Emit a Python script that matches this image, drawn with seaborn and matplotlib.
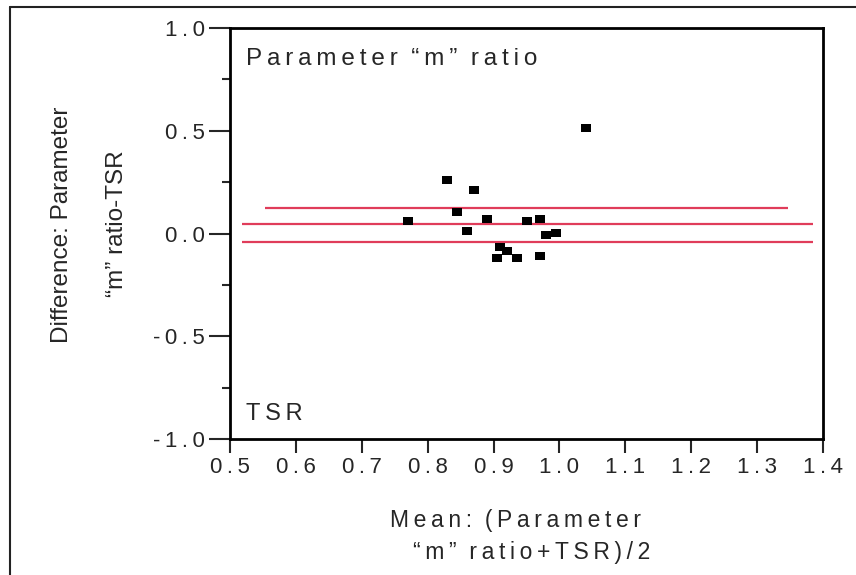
import pandas as pd
import matplotlib
matplotlib.use("Agg")
import matplotlib.pyplot as plt
from matplotlib.lines import Line2D
import seaborn as sns

# Bland-Altman points
mean_vals = [0.770, 0.830, 0.845, 0.860, 0.870, 0.890, 0.905, 0.910,
             0.920, 0.935, 0.950, 0.970, 0.970, 0.980, 0.995, 1.040]
diff_vals = [0.061, 0.259, 0.103, 0.014, 0.213, 0.071, -0.119, -0.064,
             -0.087, -0.119, 0.061, 0.071, -0.108, -0.009, 0.002, 0.513]

# mean difference and limits (upper, mean, lower)
line_y = [0.124, 0.048, -0.043]
line_x0 = [0.553, 0.518, 0.518]
line_x1 = [1.347, 1.385, 1.385]

x_ticks = [0.5, 0.6, 0.7, 0.8, 0.9, 1.0, 1.1, 1.2, 1.3, 1.4]
y_ticks = [-1.0, -0.5, 0.0, 0.5, 1.0]
y_minor = [-0.75, -0.25, 0.25, 0.75]

TS = "\u2009"  # thin space used to mimic the letter spacing


def spaced(s):
    return TS.join(s)


sns.set_style("ticks")
plt.rcParams["font.family"] = ["Liberation Sans", "DejaVu Sans"]

df = pd.DataFrame({"mean": mean_vals, "diff": diff_vals})

fig = plt.figure(figsize=(8.56, 5.75), dpi=100)
ax = fig.add_axes([230 / 856, 1 - 439 / 575, 593 / 856, 411 / 575])

rect = [(-1, -0.68), (1, -0.68), (1, 0.68), (-1, 0.68)]
sns.scatterplot(data=df, x="mean", y="diff", marker=rect, s=56,
                color="black", linewidth=0, ax=ax, zorder=3)

ax.hlines(line_y, line_x0, line_x1, colors="#e03c5a", linewidth=1.6, zorder=2)

ax.set_xlim(0.5, 1.4)
ax.set_ylim(-1.0, 1.0)
ax.set_xticks(x_ticks)
ax.set_xticklabels([spaced(f"{v:.1f}") for v in x_ticks])
ax.set_yticks(y_ticks)
ax.set_yticklabels([spaced(f"{v:.1f}") for v in y_ticks])
ax.set_yticks(y_minor, minor=True)

ax.tick_params(axis="y", which="major", length=15, width=1.5, labelsize=16, pad=3)
ax.tick_params(axis="y", which="minor", length=6, width=1.5)
ax.tick_params(axis="x", which="major", length=10, width=1.5, labelsize=16, pad=3)

for sp in ax.spines.values():
    sp.set_linewidth(2)
    sp.set_color("black")

ax.set_xlabel("")
ax.set_ylabel("")

ax.text(0.027, 0.925, spaced("Parameter") + "  " + spaced("“m”") + "  " + spaced("ratio"),
        transform=ax.transAxes, fontsize=17.5, ha="left", va="center")
ax.text(0.027, 0.06, spaced("TSR"), transform=ax.transAxes,
        fontsize=17, ha="left", va="center")

fig.text(516 / 856, 1 - 520 / 575,
         spaced("Mean:") + "  " + spaced("(Parameter"),
         fontsize=16.5, ha="center", va="center")
fig.text(532 / 856, 1 - 553 / 575,
         spaced("“m”") + "  " + spaced("ratio+TSR)/2"),
         fontsize=16.5, ha="center", va="center")

fig.text(62 / 856, 1 - 225 / 575, "Difference: Parameter", rotation=90,
         fontsize=17.5, ha="center", va="center")
fig.text(117 / 856, 1 - 224 / 575, "“m” ratio-TSR", rotation=90,
         fontsize=17.5, ha="center", va="center")

# outer frame of the original figure
fig.add_artist(Line2D([10 / 856, 10 / 856], [0, 1 - 7 / 575],
                      transform=fig.transFigure, color="#222222", linewidth=1.5))
fig.add_artist(Line2D([10 / 856, 1], [1 - 7 / 575, 1 - 7 / 575],
                      transform=fig.transFigure, color="#222222", linewidth=1.5))

fig.savefig("out.png", dpi=100)
